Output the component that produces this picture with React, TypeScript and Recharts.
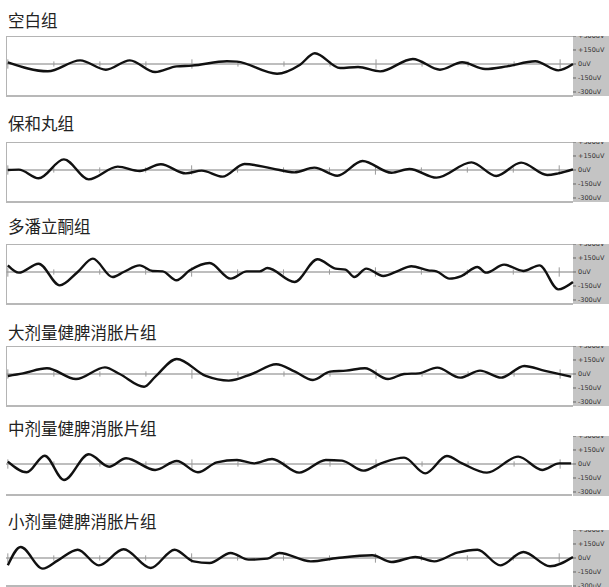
import React from 'react';
import { LineChart, Line, XAxis, YAxis, ReferenceLine } from 'recharts';

// time in seconds, amplitude in uV
const blankT = [0, 0.87, 1.57, 2.13, 2.65, 3.2, 3.67, 4.0, 4.76, 4.98, 5.85, 6.35, 6.67, 7.22, 7.61, 8.09, 8.8, 9.39, 9.87, 10.37, 10.85, 11.46, 11.96, 12.28];
const blankV = [18, -78, 39, -61, 39, -86, -25, -18, 29, 25, -104, -7, 115, -43, -32, -79, 54, -61, 18, -54, -25, 29, -68, 0];

const baoheT = [0, 0.24, 0.67, 1.22, 1.76, 2.39, 2.87, 3.33, 3.87, 4.22, 4.67, 5.15, 5.74, 6.24, 6.67, 7.17, 7.72, 8.35, 8.74, 9.33, 10.09, 10.63, 11.17, 11.74, 11.98, 12.3];
const baoheV = [0, 4, -89, 114, -100, 36, -11, 61, -36, -7, -71, 64, 18, -25, 25, -61, 96, -29, 11, -82, 82, -64, 79, -54, -36, 7];

const domperT = [0, 0.24, 0.67, 1.13, 1.52, 1.85, 2.28, 2.52, 2.87, 3.15, 3.37, 3.67, 3.96, 4.39, 4.85, 5.2, 5.48, 5.65, 6.24, 6.74, 7.13, 7.35, 7.54, 7.8, 8.17, 8.52, 8.78, 9.15, 9.33, 9.61, 9.87, 10.22, 10.41, 10.8, 11.22, 11.57, 11.98, 12.3];
const domperV = [71, -7, 89, -143, 0, 143, -54, 0, 71, 11, 7, -89, 18, 96, -71, 7, 7, 43, -107, 136, 36, 25, -54, 36, -43, 18, 61, 18, 7, -71, -43, 54, -7, 79, 11, 71, -186, -107];

const highT = [0, 0.33, 0.85, 1.48, 2.11, 2.43, 2.96, 3.2, 3.67, 4.3, 4.8, 5.3, 5.83, 6.24, 6.63, 7.0, 7.35, 7.76, 8.26, 8.61, 8.93, 9.33, 9.83, 10.26, 10.72, 11.22, 11.65, 12.24];
const highV = [-21, 7, 61, -54, 71, 0, -136, -30, 161, -21, -71, 0, 104, 25, -64, 25, 36, 61, -54, 0, 7, 68, -39, 36, -39, 86, 36, -29];

const midT = [0, 0.41, 0.8, 1.22, 1.76, 2.2, 2.57, 3.2, 3.67, 4.13, 4.54, 4.98, 5.35, 5.74, 6.33, 6.91, 7.26, 7.72, 8.11, 8.61, 9.07, 9.54, 9.87, 10.41, 11.09, 11.61, 11.98, 12.24];
const midV = [25, -89, 89, -171, 104, -29, 61, -64, 32, -89, 18, 43, 7, 54, -93, 43, 36, -71, 7, 68, -100, 86, 7, -93, 79, -64, 7, 7];

const lowT = [0, 0.28, 0.76, 1.09, 1.52, 1.98, 2.52, 3.11, 3.63, 4.04, 4.39, 4.85, 5.24, 5.65, 5.91, 6.59, 7.17, 7.93, 8.35, 8.87, 9.28, 9.78, 10.22, 10.72, 11.22, 11.8, 12.3];
const lowV = [-79, 118, -114, -25, 89, -79, 93, -107, 89, -36, -54, 54, -18, -7, 54, -36, 0, 29, -43, 11, -36, 57, 89, -79, 64, -89, 11];

const titles = ['空白组', '保和丸组', '多潘立酮组', '大剂量健脾消胀片组', '中剂量健脾消胀片组', '小剂量健脾消胀片组'];
const scaleTicks = [-300, -150, 0, 150, 300];
const secondTicks = [0, 1, 2, 3, 4, 5, 6, 7, 8, 9, 10, 11, 12];

interface PanelProps {
  title: string;
  t: number[];
  v: number[];
  zeroY: number;
  titleY: number;
  boxH: number;
  framed: boolean;
}

const Panel: React.FC<PanelProps> = ({ title, t, v, zeroY, titleY, boxH, framed }) => {
  const data = t.map((time, i) => ({ time, uv: v[i] }));
  const top = zeroY - 28;
  return (
    <>
      <div
        style={{
          position: 'absolute', left: 8, top: titleY - 9, fontFamily: '"Noto Sans CJK SC"',
          fontSize: 16.5, lineHeight: '18px', color: '#222', whiteSpace: 'nowrap',
        }}
      >
        {title}
      </div>
      <div
        style={{
          position: 'absolute', left: 6, top, width: 566, height: boxH,
          borderTop: framed ? '1px solid #b4b4b4' : 'none',
          borderLeft: framed ? '1px solid #b4b4b4' : 'none',
          borderBottom: '2px solid #b8b8b8',
        }}
      />
      <div
        style={{
          position: 'absolute', left: 6, top, width: 603, height: 60,
          background: 'linear-gradient(to right, transparent 567px, #c4c4c4 567px)',
        }}
      >
        <LineChart width={603} height={60} data={data} margin={{ top: 0, right: 0, bottom: 0, left: 0 }}>
          <XAxis dataKey="time" type="number" domain={[-0.04, 12.28]} hide />
          <YAxis
            orientation="right"
            width={36}
            domain={[-343, 300]}
            ticks={scaleTicks}
            axisLine={false}
            tickSize={3}
            tickLine={{ stroke: '#666' }}
            tick={{ fontSize: 6.5, fill: '#333', fontFamily: 'DejaVu Sans' }}
            tickFormatter={(val: number) => (val > 0 ? `+${val}uV` : `${val}uV`)}
            interval={0}
          />
          <ReferenceLine y={0} stroke="#a8a8a8" strokeWidth={1.5} />
          {secondTicks.map((s) => (
            <ReferenceLine
              key={s}
              segment={[{ x: s, y: s % 4 === 0 ? -50 : -28 }, { x: s, y: s % 4 === 0 ? 50 : 28 }]}
              stroke="#9a9a9a"
              strokeWidth={1}
            />
          ))}
          <Line
            type="monotone"
            dataKey="uv"
            stroke="#111"
            strokeWidth={2.4}
            dot={false}
            isAnimationActive={false}
          />
        </LineChart>
      </div>
    </>
  );
};

const series = [
  { t: blankT, v: blankV, zeroY: 64, titleY: 20, boxH: 58 },
  { t: baoheT, v: baoheV, zeroY: 170, titleY: 123, boxH: 58 },
  { t: domperT, v: domperV, zeroY: 272, titleY: 226, boxH: 58 },
  { t: highT, v: highV, zeroY: 374, titleY: 332, boxH: 58 },
  { t: midT, v: midV, zeroY: 464, titleY: 428, boxH: 58 },
  { t: lowT, v: lowV, zeroY: 558, titleY: 521, boxH: 55 },
];

export default function App() {
  return (
    <div style={{ position: 'absolute', left: 0, top: 0, width: 609, height: 587, background: '#fff', overflow: 'hidden' }}>
      {series.map((s, i) => (
        <Panel key={i} title={titles[i]} t={s.t} v={s.v} zeroY={s.zeroY} titleY={s.titleY} boxH={s.boxH} framed={i < 4} />
      ))}
    </div>
  );
}
